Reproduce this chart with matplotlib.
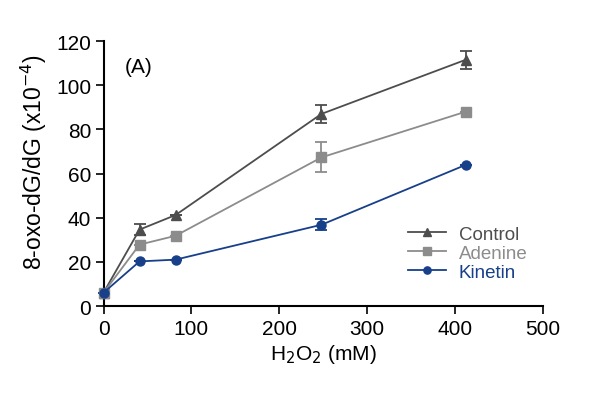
import matplotlib.pyplot as plt

plt.rcParams["font.family"] = ["Liberation Sans", "DejaVu Sans"]

h2o2 = [0, 41, 82, 248, 412]
control = [6, 34.6, 41.2, 87, 111.5]
control_err = [0, 2.6, 0, 3.9, 4.0]
adenine = [6, 27.8, 31.8, 67.3, 88]
adenine_err = [0, 0, 0, 6.8, 0]
kinetin = [6, 20.2, 21, 36.8, 63.9]
kinetin_err = [0, 0, 0, 2.6, 0]

series = [
    ("Control", control, control_err, "^", "#4d4d4d"),
    ("Adenine", adenine, adenine_err, "s", "#8c8c8c"),
    ("Kinetin", kinetin, kinetin_err, "o", "#173f8a"),
]

fig = plt.figure(figsize=(5.99, 4.10), dpi=100)
ax = fig.add_axes([0.1728, 0.2512, 0.7337, 0.6463])

handles = []
for name, vals, err, marker, color in series:
    h = ax.errorbar(h2o2, vals, yerr=err, color=color, marker=marker,
                    markersize=6.5, linewidth=1.3, elinewidth=1.3, capsize=4,
                    capthick=1.3, clip_on=False, label=name, zorder=3)
    for art in h.lines[1]:
        art.set_clip_on(False)
    handles.append(h)

ax.set_xlim(0, 500)
ax.set_ylim(0, 120)
ax.set_xticks([0, 100, 200, 300, 400, 500])
ax.set_yticks([0, 20, 40, 60, 80, 100, 120])
ax.spines["top"].set_visible(False)
ax.spines["right"].set_visible(False)
ax.spines["left"].set_linewidth(1.5)
ax.spines["bottom"].set_linewidth(1.5)
ax.tick_params(direction="out", length=6, width=1.2, labelsize=15, pad=3)

ax.set_xlabel("H$_2$O$_2$ (mM)", fontsize=15, labelpad=3)
ax.set_ylabel("8-oxo-dG/dG (x10$^{-4}$)", fontsize=16.5)
ax.yaxis.set_label_coords(-0.125, 0.545)
ax.text(24, 106, "(A)", fontsize=15)

leg = ax.legend(handles=[h[0] for h in handles], labels=[s[0] for s in series],
                loc="lower right", bbox_to_anchor=(0.995, 0.045), frameon=False,
                fontsize=13.5, handlelength=2, handletextpad=0.7,
                labelspacing=0.1, markerscale=0.8, borderpad=0.2)
for txt, s in zip(leg.get_texts(), series):
    txt.set_color(s[4])

fig.savefig("out.png", dpi=100)
